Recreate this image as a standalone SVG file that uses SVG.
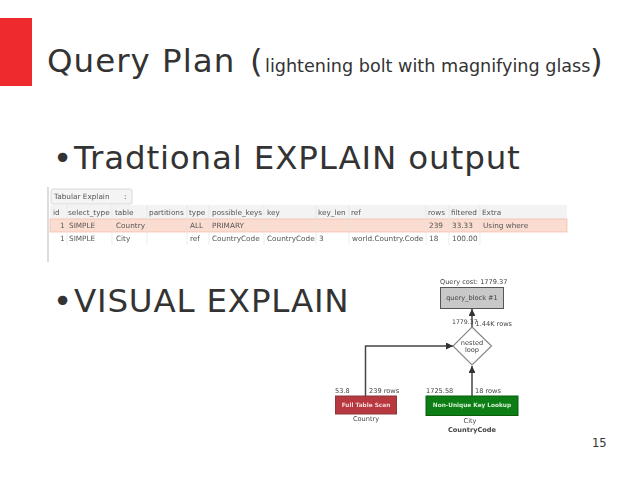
<svg xmlns="http://www.w3.org/2000/svg" width="638" height="479" viewBox="0 0 638 479">
<style>
text{font-family:"DejaVu Sans",sans-serif;fill:#333}
.t{font-size:7.3px;fill:#555}
.d{font-size:6.6px;fill:#444}
.c{fill:none;stroke:#444;stroke-width:1.5}
.g{stroke:#e4e4e4;stroke-width:.7}
</style>
<defs>
<marker id="a" markerUnits="userSpaceOnUse" markerWidth="8" markerHeight="8" refX="7" refY="3.500" orient="auto"><path d="M0 0L7 3.500L0 7Z" fill="#333"/></marker>
<filter id="s" x="-2%" y="-2%" width="104%" height="104%"><feGaussianBlur stdDeviation=".35"/></filter>
</defs>
<rect width="638" height="479" fill="#fff"/>
<rect x="0" y="18" width="32" height="68" fill="#ee2a2e"/>
<text x="47" y="72" font-size="32.5" letter-spacing="1">Query Plan <tspan x="250" letter-spacing="0">(</tspan><tspan x="265" font-size="17.6" letter-spacing="0">lightening bolt with magnifying glass</tspan><tspan x="590" letter-spacing="0">)</tspan></text>
<text x="53" y="169" font-size="32.5">•</text>
<text x="74" y="169" font-size="32.5" letter-spacing=".85">Tradtional EXPLAIN output</text>
<text x="53" y="312" font-size="32.5">•</text>
<text x="74" y="312" font-size="32.5" letter-spacing=".8">VISUAL EXPLAIN</text>
<g id="table" filter="url(#s)">
<rect x="47" y="187" width="2" height="75" fill="#ddd"/>
<rect x="51" y="189" width="81" height="15" rx="2" fill="#f4f4f4" stroke="#ccc" stroke-width=".7"/>
<text class="t" x="54" y="199">Tabular Explain</text>
<text class="t" x="124" y="199">:</text>
<rect x="50" y="205" width="517" height="14" fill="#f3f3f3"/>
<rect x="50" y="219" width="517" height="13" fill="#fbdcd0" stroke="#f3b9a5" stroke-width=".7"/>
<path class="g" d="M67 205V245M112 205V245M147 205V245M187 205V245M209 205V245M264 205V245M316 205V245M349 205V245M426 205V245M449 205V245M480 205V245"/>
<g>
<text class="t" x="53" y="215">id</text><text class="t" x="68" y="215">select_type</text><text class="t" x="115" y="215">table</text><text class="t" x="149" y="215">partitions</text><text class="t" x="189" y="215">type</text><text class="t" x="212" y="215">possible_keys</text><text class="t" x="267" y="215">key</text><text class="t" x="318" y="215">key_len</text><text class="t" x="351" y="215">ref</text><text class="t" x="428" y="215">rows</text><text class="t" x="451" y="215">filtered</text><text class="t" x="482" y="215">Extra</text>
<text class="t" x="60" y="228">1</text><text class="t" x="69" y="228">SIMPLE</text><text class="t" x="116" y="228">Country</text><text class="t" x="190" y="228">ALL</text><text class="t" x="212" y="228">PRIMARY</text><text class="t" x="429" y="228">239</text><text class="t" x="452" y="228">33.33</text><text class="t" x="483" y="228">Using where</text>
<text class="t" x="60" y="241">1</text><text class="t" x="69" y="241">SIMPLE</text><text class="t" x="116" y="241">City</text><text class="t" x="190" y="241">ref</text><text class="t" x="212" y="241">CountryCode</text><text class="t" x="267" y="241">CountryCode</text><text class="t" x="319" y="241">3</text><text class="t" x="352" y="241">world.Country.Code</text><text class="t" x="429" y="241">18</text><text class="t" x="452" y="241">100.00</text>
</g>
</g>
<g id="connectors" filter="url(#s)">
<path class="c" marker-end="url(#a)" d="M365.500 396V346H453"/>
<path class="c" marker-end="url(#a)" d="M472 396V366"/>
<path class="c" marker-end="url(#a)" d="M472 327V309"/>
</g>
<g id="query_block" filter="url(#s)">
<text class="d" x="440" y="284">Query cost: 1779.37</text>
<rect x="440.500" y="287.500" width="63" height="21" fill="#c8c8c8" stroke="#555"/>
<text class="d" x="472" y="300" text-anchor="middle">query_block #1</text>
</g>
<g id="edge_labels" filter="url(#s)">
<text class="d" x="452" y="324" style="font-size:6.200px">1779.37</text>
<text class="d" x="475.500" y="326">1.44K rows</text>
</g>
<g id="nested_loop" filter="url(#s)">
<path d="M472 327L491.500 346L472 365L453 346Z" fill="#fff" stroke="#888" stroke-width="1.2"/>
<text class="d" x="472" y="345" text-anchor="middle">nested</text>
<text class="d" x="472" y="352" text-anchor="middle">loop</text>
</g>
<g id="full_table_scan" filter="url(#s)">
<text class="d" x="335" y="393">53.8</text><text class="d" x="369" y="393">239 rows</text>
<rect x="335.500" y="396" width="61" height="18" fill="#b8373f" stroke="#8b3a3a"/>
<text class="d" x="366" y="407" text-anchor="middle" font-weight="bold" style="fill:#f3dada;font-size:5.800px">Full Table Scan</text>
<text class="d" x="366" y="421" text-anchor="middle">Country</text>
</g>
<g id="lookup" filter="url(#s)">
<text class="d" x="426" y="393">1725.58</text><text class="d" x="475" y="393">18 rows</text>
<rect x="426" y="396" width="92" height="19.500" fill="#0a7d12" stroke="#0a5c10"/>
<text class="d" x="472" y="407" text-anchor="middle" font-weight="bold" style="fill:#d8f0d8;font-size:5.800px">Non-Unique Key Lookup</text>
<text class="d" x="470" y="423" text-anchor="middle">City</text>
<text class="d" x="472" y="432" text-anchor="middle" font-weight="bold">CountryCode</text>
</g>
<text x="592" y="447" font-size="11.500">15</text>
</svg>
